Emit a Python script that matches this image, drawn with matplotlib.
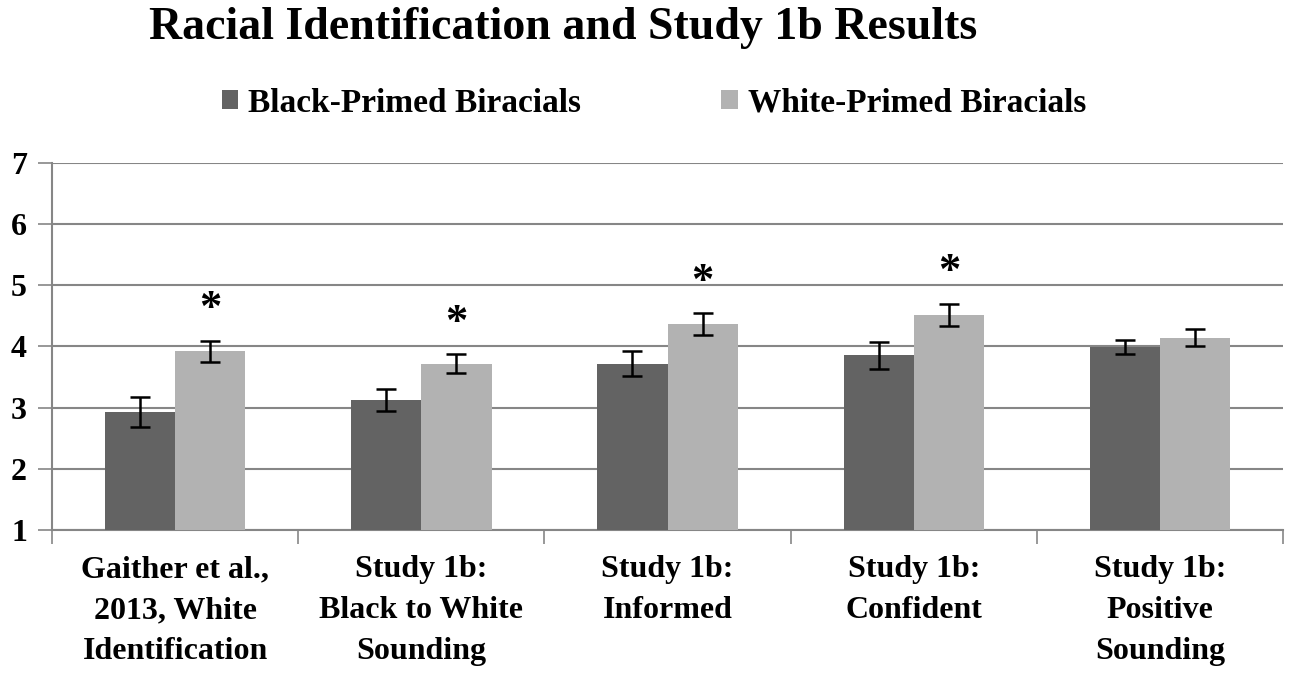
import numpy as np
import matplotlib.pyplot as plt

categories = ["Gaither et al.,\n2013, White\nIdentification",
              "Study 1b:\nBlack to White\nSounding",
              "Study 1b:\nInformed",
              "Study 1b:\nConfident",
              "Study 1b:\nPositive\nSounding"]
black_primed = [2.93, 3.12, 3.72, 3.86, 3.99]
black_err = [0.25, 0.18, 0.21, 0.22, 0.11]
white_primed = [3.92, 3.72, 4.36, 4.52, 4.14]
white_err = [0.17, 0.15, 0.18, 0.18, 0.14]
significant = [True, True, True, True, False]

plt.rcParams['font.family'] = ['Liberation Serif', 'DejaVu Serif']
plt.rcParams['font.weight'] = 'bold'

fig = plt.figure(figsize=(13, 6.78), dpi=100)
ax = fig.add_axes([0.04, 0.218, 0.947, 0.542])

x = np.arange(len(categories))
w = 0.285
err_kw = dict(ecolor="black", elinewidth=1.8, capsize=7, capthick=1.8)
ax.bar(x - w / 2, black_primed, w, bottom=0, color="#636363",
       yerr=black_err, error_kw=err_kw, label="Black-Primed Biracials", zorder=3)
ax.bar(x + w / 2, white_primed, w, bottom=0, color="#b2b2b2",
       yerr=white_err, error_kw=err_kw, label="White-Primed Biracials", zorder=3)

# significance stars above the white-primed bars
for i in range(len(categories)):
    if significant[i]:
        ax.text(x[i] + w / 2, white_primed[i] + white_err[i] + 0.52, "*",
                ha="center", va="center", fontsize=32, fontweight="bold")

ax.set_ylim(1, 7)
ax.set_xlim(-0.5, len(categories) - 0.5)
ax.set_yticks(range(1, 8))
ax.yaxis.grid(True, color="#868686", linewidth=1.5, zorder=0)
ax.tick_params(axis="y", length=10, width=1.2, color="#868686",
               labelsize=23, pad=8)

ax.set_xticks(x)
ax.set_xticklabels(categories, fontsize=23, linespacing=1.55)
ax.tick_params(axis="x", length=0, pad=18)
ax.set_xticks(np.arange(len(categories) + 1) - 0.5, minor=True)
ax.tick_params(axis="x", which="minor", length=10, width=1.2, color="#868686")

for s in ["top", "right"]:
    ax.spines[s].set_visible(False)
ax.spines["left"].set_color("#868686")
ax.spines["bottom"].set_color("#868686")
ax.spines["left"].set_linewidth(1.5)
ax.spines["bottom"].set_linewidth(1.5)

fig.text(0.433, 0.958, "Racial Identification and Study 1b Results",
         ha="center", va="center", fontsize=33, fontweight="bold")
fig.legend(loc="center", bbox_to_anchor=(0.503, 0.848), ncol=2, frameon=False,
           fontsize=24, handlelength=0.5, handleheight=0.5, handletextpad=0.3,
           columnspacing=4.2)

plt.savefig("out.png", dpi=100)
